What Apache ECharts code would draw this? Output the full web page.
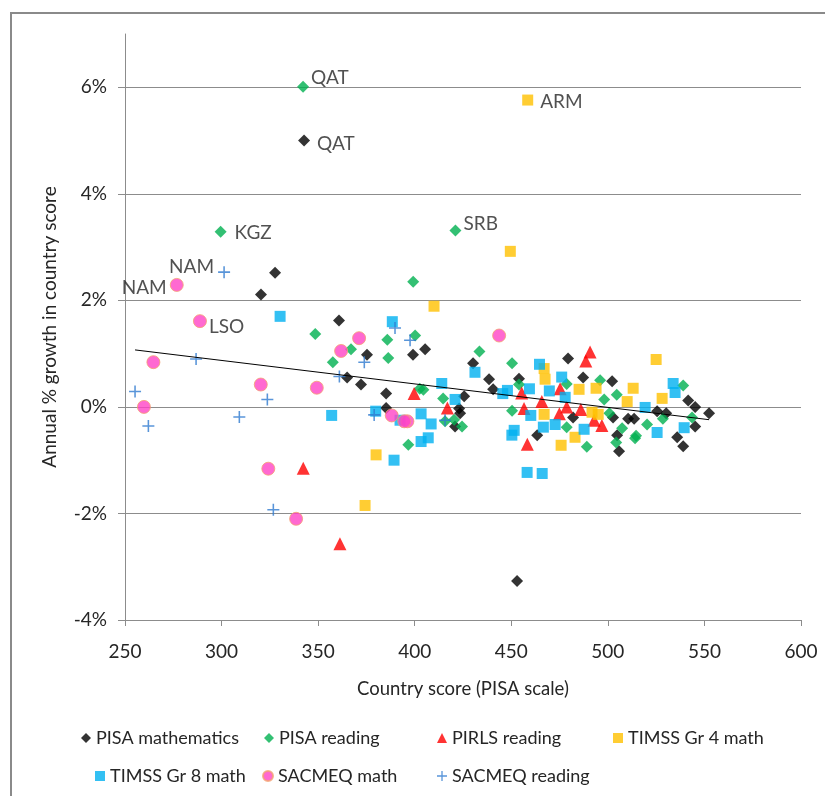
<!DOCTYPE html>
<html>
<head>
<meta charset="utf-8">
<script src="https://cdn.jsdelivr.net/npm/echarts@6/dist/echarts.min.js"></script>
<style>
  html, body { margin: 0; padding: 0; background: #fff; }
  #chart { width: 825px; height: 796px; }
</style>
</head>
<body>
<div id="chart"></div>
<script>
// Country score (PISA scale) vs annual % growth; optional third field = country code label
const pisaMath = [
  [342.7, 5.00, 'QAT'], [327.7, 2.52], [320.4, 2.11], [360.8, 1.62], [365.0, 0.55],
  [372.2, 0.42], [375.3, 0.98], [385.2, 0.25], [385.2, -0.02], [399.1, 0.98],
  [405.4, 1.08], [430.2, 0.82], [438.5, 0.52], [440.6, 0.33], [425.6, 0.20],
  [423.0, -0.03], [423.5, -0.12], [420.9, -0.37], [453.0, -3.27], [454.0, 0.53],
  [463.4, -0.53], [479.4, 0.91], [487.2, 0.55], [502.2, 0.48], [502.7, -0.20],
  [504.8, -0.53], [505.8, -0.83], [510.5, -0.22], [513.6, -0.22], [482.0, -0.20],
  [525.5, -0.08], [530.2, -0.12], [541.6, 0.12], [545.2, 0.00], [552.4, -0.12],
  [545.2, -0.37], [535.9, -0.57], [539.0, -0.74]
];
const pisaReading = [
  [342.2, 6.01, 'QAT'], [299.5, 3.29, 'KGZ'], [421.1, 3.31, 'SRB'], [399.2, 2.35],
  [348.5, 1.37], [357.6, 0.84], [367.0, 1.08], [385.8, 1.26], [386.3, 0.92],
  [400.2, 1.34], [402.6, 0.34], [404.5, 0.32], [396.7, -0.71], [433.5, 1.04],
  [414.7, 0.16], [415.7, -0.27], [420.4, -0.24], [424.5, -0.37], [450.4, 0.82],
  [454.0, 0.42], [450.4, -0.07], [496.0, 0.50], [504.6, 0.23], [498.1, 0.14],
  [478.7, -0.38], [489.1, -0.75], [504.3, -0.67], [507.4, -0.40], [514.6, -0.54],
  [514.1, -0.59], [520.3, -0.33], [528.5, -0.22], [539.0, 0.40], [543.6, -0.20],
  [478.7, 0.43], [500.8, -0.12]
];
const pirlsReading = [
  [342.3, -1.15], [361.3, -2.57], [399.7, 0.25], [416.9, -0.02], [455.4, 0.26],
  [456.6, -0.03], [458.3, -0.70], [465.8, 0.10], [474.9, -0.13], [475.3, 0.34],
  [490.8, 1.03], [488.6, 0.86], [486.0, -0.05], [496.9, -0.35], [492.9, -0.25],
  [478.7, 0.00]
];
const timss4Math = [
  [458.5, 5.76, 'ARM'], [449.5, 2.92], [410.0, 1.89], [380.0, -0.90], [374.3, -1.85],
  [467.0, 0.72], [467.5, 0.52], [467.0, -0.14], [475.8, -0.72], [493.9, 0.35],
  [485.1, 0.33], [513.1, 0.35], [510.0, 0.10], [491.8, -0.10], [495.0, -0.14],
  [483.0, -0.57], [525.0, 0.89], [528.1, 0.16]
];
const timss8Math = [
  [330.3, 1.70], [357.0, -0.16], [379.8, -0.08], [388.4, 1.60], [392.4, -0.25],
  [389.3, -1.00], [403.3, -0.13], [408.5, -0.32], [403.3, -0.65], [407.0, -0.58],
  [414.0, 0.44], [431.2, 0.65], [420.9, 0.14], [445.6, 0.25], [448.0, 0.31],
  [459.4, 0.34], [464.6, 0.80], [469.7, 0.30], [476.1, 0.56], [460.1, -0.16],
  [466.6, -0.38], [472.7, -0.33], [451.5, -0.44], [450.3, -0.53], [458.2, -1.23],
  [466.0, -1.25], [477.9, 0.18], [487.7, -0.42], [519.3, -0.01], [525.5, -0.48],
  [533.8, 0.44], [534.8, 0.27], [539.5, -0.39]
];
const sacmeqMath = [
  [276.8, 2.29, 'NAM'], [288.8, 1.61, 'LSO'], [264.7, 0.84], [259.8, 0.00], [320.3, 0.42],
  [349.3, 0.36], [324.2, -1.16], [338.6, -2.10], [361.9, 1.05], [371.2, 1.29],
  [388.1, -0.16], [396.2, -0.27], [394.6, -0.27], [443.7, 1.34]
];
const sacmeqReading = [
  [301.3, 2.53, 'NAM'], [286.8, 0.90], [255.2, 0.29], [262.1, -0.36], [309.2, -0.19],
  [323.7, 0.14], [326.8, -1.93], [361.0, 0.57], [373.9, 0.84], [389.8, 1.48],
  [397.6, 1.25], [379.0, -0.15], [415.7, -0.25]
];
// Linear trend across all points
const trendLine = [[255.2, 1.07], [552.4, -0.24]];

const xTicks = { min: 250, max: 600, step: 50 };
const yTicks = { min: -4, max: 7, step: 2 };
const yTickValues = [-4, -2, 0, 2, 4, 6];

const FONT = 'Lato';
const FONT_SIZE = 19;
const LEGEND_FONT_SIZE = 18;
const TEXT = '#262626';
const GRID = '#8c8c8c';

const plusPath = 'path://M0,4.35 L10,4.35 L10,5.65 L0,5.65 Z M4.35,0 L5.65,0 L5.65,10 L4.35,10 Z';

const seriesDefs = [
  { name: 'PISA mathematics', data: pisaMath, symbol: 'diamond', size: 12, color: '#000000' },
  { name: 'PISA reading', data: pisaReading, symbol: 'diamond', size: 12, color: '#00B050' },
  { name: 'PIRLS reading', data: pirlsReading, symbol: 'triangle', size: 13, color: '#FF0000' },
  { name: 'TIMSS Gr 4 math', data: timss4Math, symbol: 'rect', size: 11, color: '#FFC000' },
  { name: 'TIMSS Gr 8 math', data: timss8Math, symbol: 'rect', size: 11, color: '#00B0F0' },
  { name: 'SACMEQ math', data: sacmeqMath, symbol: 'circle', size: 13, color: '#FF43C6', border: '#F4A070' },
  { name: 'SACMEQ reading', data: sacmeqReading, symbol: plusPath, size: 12, color: '#2F7BD0' }
];

// Placement of the country-code labels
const labelPlacement = {
  'PISA mathematics|QAT': { position: 'right', distance: 7, offset: [0, 3] },
  'PISA reading|QAT': { position: 'right', distance: 2, offset: [0, -9] },
  'PISA reading|KGZ': { position: 'right', distance: 8, offset: [0, 1] },
  'PISA reading|SRB': { position: 'right', distance: 2, offset: [0, -7] },
  'TIMSS Gr 4 math|ARM': { position: 'right', distance: 7, offset: [0, 2] },
  'SACMEQ math|NAM': { position: 'left', distance: 3, offset: [0, 3] },
  'SACMEQ math|LSO': { position: 'right', distance: 2, offset: [0, 6] },
  'SACMEQ reading|NAM': { position: 'left', distance: 4, offset: [0, -5] }
};

// Legend layout: [series, left, top]
const legendSlots = [
  ['PISA mathematics', 81, 729],
  ['PISA reading', 264, 729],
  ['PIRLS reading', 437, 729],
  ['TIMSS Gr 4 math', 613, 729],
  ['TIMSS Gr 8 math', 95, 767],
  ['SACMEQ math', 262, 767],
  ['SACMEQ reading', 437, 767]
];

const series = seriesDefs.map(def => ({
  type: 'scatter',
  name: def.name,
  symbol: def.symbol,
  symbolSize: def.size,
  itemStyle: def.border
    ? { color: def.color, borderColor: def.border, borderWidth: 1 }
    : { color: def.color },
  emphasis: { disabled: true },
  data: def.data.map(p => {
    const item = { value: [p[0], p[1]] };
    if (p[2]) {
      const place = labelPlacement[def.name + '|' + p[2]] || { position: 'right' };
      item.label = Object.assign({
        show: true,
        formatter: p[2],
        color: TEXT,
        fontFamily: FONT,
        fontSize: FONT_SIZE
      }, place);
    }
    return item;
  })
}));

series.push({
  type: 'line',
  name: 'trend',
  data: trendLine,
  symbol: 'none',
  lineStyle: { color: '#000', width: 1 },
  silent: true,
  z: 5
});

const option = {
  animation: false,
  backgroundColor: '#fff',
  textStyle: { fontFamily: FONT },
  grid: { left: 125, right: 24, top: 34, bottom: 176 },
  graphic: [{
    type: 'rect',
    silent: true,
    shape: { x: 11, y: 13, width: 900, height: 900 },
    style: { fill: 'none', stroke: '#8a8a8a', lineWidth: 2 }
  }],
  legend: legendSlots.map(s => ({
    data: [s[0]],
    left: s[1],
    top: s[2],
    itemWidth: 10,
    itemHeight: 10,
    padding: 0,
    selectedMode: false,
    textStyle: { color: TEXT, fontFamily: FONT, fontSize: LEGEND_FONT_SIZE }
  })),
  xAxis: {
    type: 'value',
    min: xTicks.min,
    max: xTicks.max,
    interval: xTicks.step,
    name: 'Country score (PISA scale)',
    nameLocation: 'middle',
    nameGap: 60,
    nameTextStyle: { color: TEXT, fontFamily: FONT, fontSize: 18.5 },
    axisLine: { show: true, onZero: false, lineStyle: { color: GRID, width: 1 } },
    axisTick: { show: true, length: 6, lineStyle: { color: GRID } },
    axisLabel: { color: TEXT, fontFamily: FONT, fontSize: FONT_SIZE, margin: 22 },
    splitLine: { show: false }
  },
  yAxis: {
    type: 'value',
    min: yTicks.min,
    max: yTicks.max,
    interval: yTicks.step,
    name: 'Annual % growth in country score',
    nameLocation: 'middle',
    nameGap: 66,
    nameTextStyle: { color: TEXT, fontFamily: FONT, fontSize: FONT_SIZE },
    axisLine: { show: true, onZero: false, lineStyle: { color: GRID, width: 1 } },
    axisTick: { show: true, length: 7, lineStyle: { color: GRID }, customValues: yTickValues },
    axisLabel: {
      color: TEXT, fontFamily: FONT, fontSize: FONT_SIZE, margin: 18,
      customValues: yTickValues,
      formatter: v => v + '%'
    },
    splitLine: { show: true, lineStyle: { color: GRID, width: 1 } }
  },
  series: series
};

const chart = echarts.init(document.getElementById('chart'), null, { renderer: 'canvas' });
chart.setOption(option);
</script>
</body>
</html>
